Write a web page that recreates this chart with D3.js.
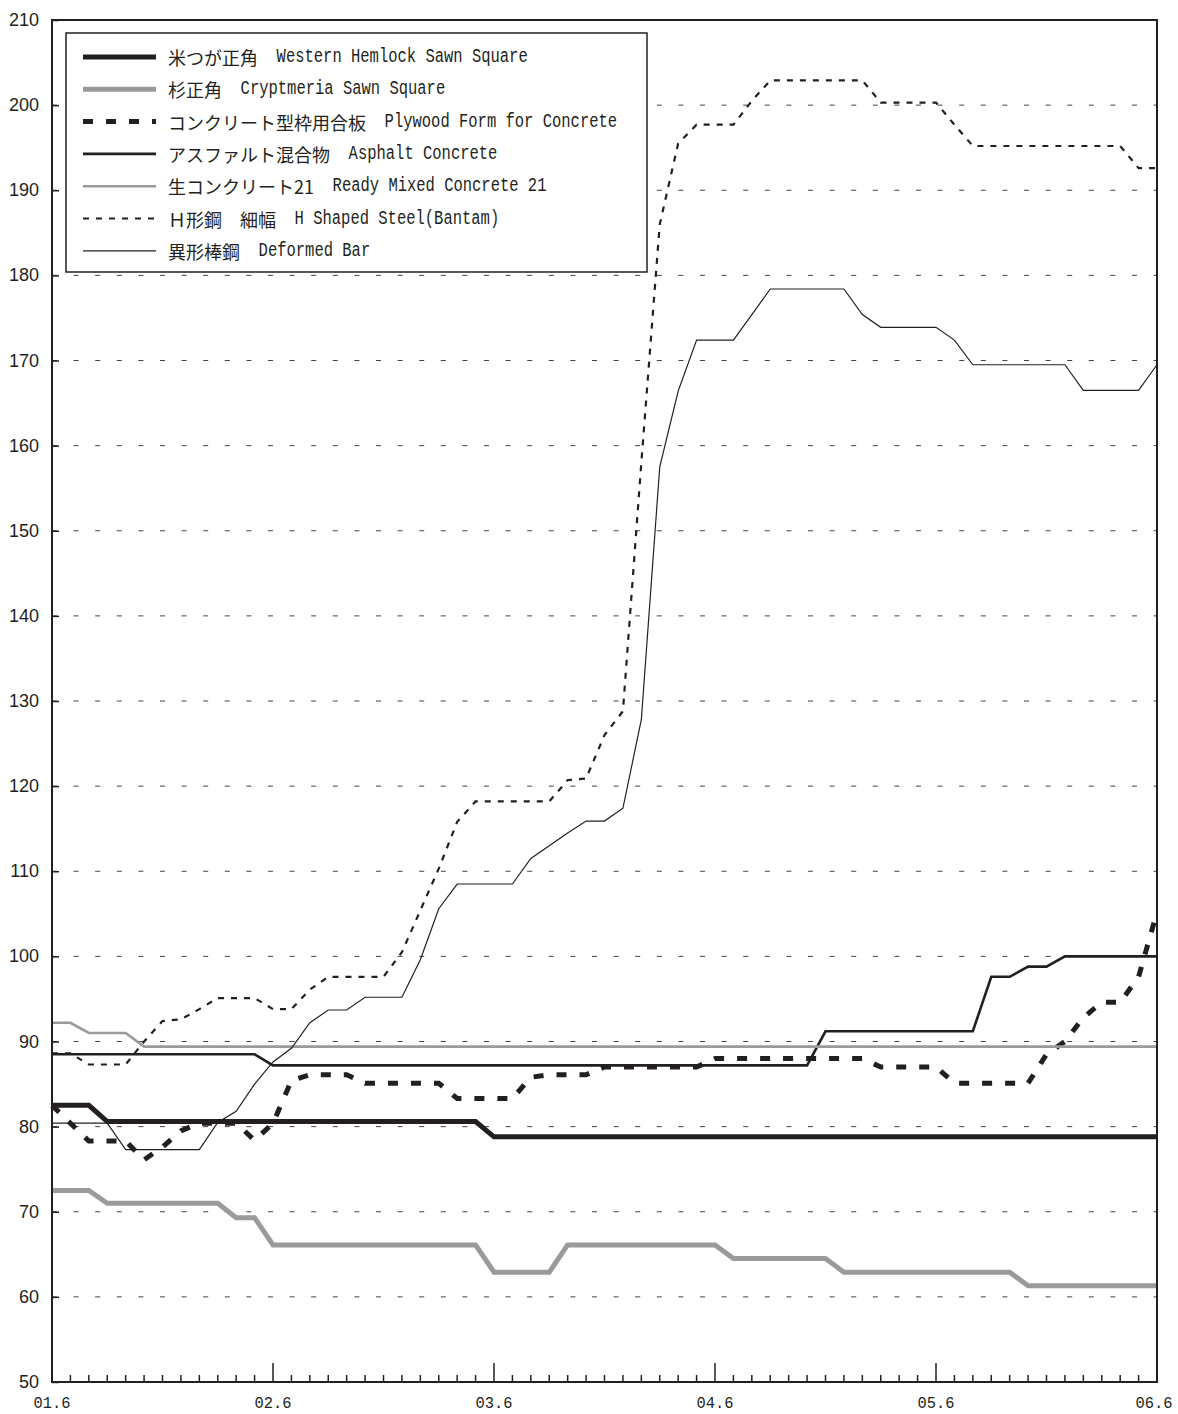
<!DOCTYPE html>
<html>
<head>
<meta charset="utf-8">
<script src="https://cdn.jsdelivr.net/npm/d3@7"></script>
<style>
  body { margin: 0; background: #fff; }
  .y-label { font-family: "Liberation Sans", Arial, sans-serif; font-size: 18px; fill: #231f20; }
  .x-label { font-family: "Liberation Mono", monospace; font-size: 17px; fill: #231f20; }
  .legend-jp { font-family: "Noto Sans CJK JP", sans-serif; font-size: 18px; fill: #231f20; }
  .legend-en { font-family: "Liberation Mono", monospace; font-size: 19.5px; fill: #231f20; }
</style>
</head>
<body>
<div class="wrapper"></div>
<script>
// monthly index, 0 = 2001.6 ... 60 = 2006.6
const months = d3.range(61)
const xTickLabels = ["01.6", "02.6", "03.6", "04.6", "05.6", "06.6"]
const yTicks = [50, 60, 70, 80, 90, 100, 110, 120, 130, 140, 150, 160, 170, 180, 190, 200, 210]

const namesJp = ["米つが正角", "杉正角", "コンクリート型枠用合板", "アスファルト混合物", "生コンクリート21", "Ｈ形鋼　細幅", "異形棒鋼"]
const namesEn = ["Western Hemlock Sawn Square", "Cryptmeria Sawn Square", "Plywood Form for Concrete", "Asphalt Concrete", "Ready Mixed Concrete 21", "H Shaped Steel(Bantam)", "Deformed Bar"]

const hemlock = [82.5, 82.5, 82.5,
  80.6, 80.6, 80.6, 80.6, 80.6, 80.6, 80.6, 80.6, 80.6, 80.6, 80.6, 80.6, 80.6, 80.6, 80.6, 80.6, 80.6, 80.6, 80.6, 80.6, 80.6,
  78.8, 78.8, 78.8, 78.8, 78.8, 78.8, 78.8, 78.8, 78.8, 78.8, 78.8, 78.8, 78.8, 78.8, 78.8, 78.8, 78.8, 78.8, 78.8, 78.8, 78.8,
  78.8, 78.8, 78.8, 78.8, 78.8, 78.8, 78.8, 78.8, 78.8, 78.8, 78.8, 78.8, 78.8, 78.8, 78.8, 78.8]
const cryptomeria = [72.5, 72.5, 72.5,
  71.0, 71.0, 71.0, 71.0, 71.0, 71.0, 71.0,
  69.3, 69.3,
  66.1, 66.1, 66.1, 66.1, 66.1, 66.1, 66.1, 66.1, 66.1, 66.1, 66.1, 66.1,
  62.9, 62.9, 62.9, 62.9,
  66.1, 66.1, 66.1, 66.1, 66.1, 66.1, 66.1, 66.1, 66.1,
  64.5, 64.5, 64.5, 64.5, 64.5, 64.5,
  62.9, 62.9, 62.9, 62.9, 62.9, 62.9, 62.9, 62.9, 62.9, 62.9,
  61.3, 61.3, 61.3, 61.3, 61.3, 61.3, 61.3, 61.3]
const plywood = [82.5, 80.4, 78.3, 78.3, 78.3, 76.1, 77.6, 79.5, 80.4, 80.4,
  80.4, 78.4, 80.4, 85.4, 86.1, 86.1, 86.1, 85.1, 85.1, 85.1,
  85.1, 85.1, 83.3, 83.3, 83.3, 83.3, 85.8, 86.1, 86.1, 86.1,
  87.0, 87.0, 87.0, 87.0, 87.0, 87.0, 88.0, 88.0, 88.0, 88.0,
  88.0, 88.0, 88.0, 88.0, 88.0, 87.0, 87.0, 87.0, 87.0, 85.1,
  85.1, 85.1, 85.1, 85.1, 88.5, 90.0, 92.8, 94.6, 94.6, 97.6, 105.2]
const asphalt = [88.5, 88.5, 88.5, 88.5, 88.5, 88.5, 88.5, 88.5, 88.5, 88.5, 88.5, 88.5,
  87.2, 87.2, 87.2, 87.2, 87.2, 87.2, 87.2, 87.2, 87.2, 87.2, 87.2, 87.2, 87.2, 87.2, 87.2,
  87.2, 87.2, 87.2, 87.2, 87.2, 87.2, 87.2, 87.2, 87.2, 87.2, 87.2, 87.2, 87.2, 87.2, 87.2,
  91.2, 91.2, 91.2, 91.2, 91.2, 91.2, 91.2, 91.2, 91.2,
  97.6, 97.6, 98.8, 98.8,
  100.0, 100.0, 100.0, 100.0, 100.0, 100.0]
const readyMixed = [92.2, 92.2, 91.0, 91.0, 91.0,
  89.4, 89.4, 89.4, 89.4, 89.4, 89.4, 89.4, 89.4, 89.4, 89.4, 89.4, 89.4, 89.4, 89.4, 89.4,
  89.4, 89.4, 89.4, 89.4, 89.4, 89.4, 89.4, 89.4, 89.4, 89.4, 89.4, 89.4, 89.4, 89.4, 89.4,
  89.4, 89.4, 89.4, 89.4, 89.4, 89.4, 89.4, 89.4, 89.4, 89.4, 89.4, 89.4, 89.4, 89.4, 89.4,
  89.4, 89.4, 89.4, 89.4, 89.4, 89.4, 89.4, 89.4, 89.4, 89.4, 89.4]
const hSteel = [88.6, 88.6, 87.3, 87.3, 87.3, 90.0, 92.4, 92.6, 93.8, 95.1,
  95.1, 95.1, 93.8, 93.8, 96.1, 97.6, 97.6, 97.6, 97.6, 100.5,
  105.4, 110.3, 115.8, 118.2, 118.2, 118.2, 118.2, 118.2, 120.7, 120.9,
  126.0, 128.8, 158.0, 186.0, 195.5, 197.7, 197.7, 197.7, 200.5, 202.9,
  202.9, 202.9, 202.9, 202.9, 202.9, 200.3, 200.3, 200.3, 200.3, 197.7,
  195.2, 195.2, 195.2, 195.2, 195.2, 195.2, 195.2, 195.2, 195.2, 192.6, 192.6]
const deformedBar = [80.4, 80.4, 80.4, 80.4, 77.3, 77.3, 77.3, 77.3, 77.3, 80.5,
  81.8, 85.0, 87.6, 89.2, 92.2, 93.7, 93.7, 95.2, 95.2, 95.2,
  99.6, 105.6, 108.5, 108.5, 108.5, 108.5, 111.5, 113.0, 114.5, 115.9,
  115.9, 117.4, 127.8, 157.5, 166.4, 172.4, 172.4, 172.4, 175.4, 178.4,
  178.4, 178.4, 178.4, 178.4, 175.4, 173.9, 173.9, 173.9, 173.9, 172.4,
  169.5, 169.5, 169.5, 169.5, 169.5, 169.5, 166.5, 166.5, 166.5, 166.5, 169.5]

const seriesValues = [hemlock, cryptomeria, plywood, asphalt, readyMixed, hSteel, deformedBar]

// drawing style for each series, same order as above
const black = "#231f20"
const grey = "#9a9a9a"
const lineStyles = [
  {color: black, width: 5, dash: null},
  {color: grey, width: 5, dash: null},
  {color: black, width: 5, dash: "10,13"},
  {color: black, width: 2.6, dash: null},
  {color: grey, width: 2.6, dash: null},
  {color: black, width: 2.2, dash: "6,7"},
  {color: black, width: 1.2, dash: null},
]

let dimensions = {
  width: 1178,
  height: 1414,
  margin: {top: 20, right: 21, bottom: 32, left: 52},
}
dimensions.boundedWidth = dimensions.width - dimensions.margin.left - dimensions.margin.right
dimensions.boundedHeight = dimensions.height - dimensions.margin.top - dimensions.margin.bottom

const wrapper = d3.select(".wrapper")
  .append("svg")
  .attr("width", dimensions.width)
  .attr("height", dimensions.height)

const bounds = wrapper.append("g")
  .attr("transform", `translate(${dimensions.margin.left},${dimensions.margin.top})`)

const xScale = d3.scaleLinear()
  .domain([0, 60])
  .range([0, dimensions.boundedWidth])

const yScale = d3.scaleLinear()
  .domain([50, 210])
  .range([dimensions.boundedHeight, 0])

// dashed grid lines
bounds.append("g")
  .selectAll("line")
  .data(yTicks.filter(d => d > 50 && d < 210))
  .enter().append("line")
  .attr("x1", 0)
  .attr("x2", dimensions.boundedWidth)
  .attr("y1", d => yScale(d))
  .attr("y2", d => yScale(d))
  .attr("stroke", "#444")
  .attr("stroke-width", 1)
  .attr("stroke-dasharray", "5,16.6")

// y axis: ticks pointing inward, labels on the left
const yAxis = d3.axisRight(yScale)
  .tickValues(yTicks)
  .tickSize(7)
  .tickFormat("")
const yAxisGroup = bounds.append("g").call(yAxis)
yAxisGroup.select(".domain").remove()
yAxisGroup.selectAll("line").attr("stroke", black).attr("stroke-width", 1.5)

bounds.append("g")
  .selectAll("text")
  .data(yTicks)
  .enter().append("text")
  .attr("class", "y-label")
  .attr("x", -13)
  .attr("y", d => yScale(d))
  .attr("text-anchor", "end")
  .attr("dominant-baseline", "central")
  .text(d => d)

// x axis: monthly minor ticks, yearly major ticks, pointing up
const xAxisGroup = bounds.append("g")
  .attr("transform", `translate(0,${dimensions.boundedHeight})`)
xAxisGroup.selectAll("line")
  .data(months)
  .enter().append("line")
  .attr("x1", d => xScale(d))
  .attr("x2", d => xScale(d))
  .attr("y1", 0)
  .attr("y2", d => d % 12 === 0 ? -19 : -7)
  .attr("stroke", black)
  .attr("stroke-width", 1.5)

// last label would touch the page edge, so it is pulled in a little
const lastLabel = xTickLabels.length - 1
xAxisGroup.selectAll("text")
  .data(xTickLabels)
  .enter().append("text")
  .attr("class", "x-label")
  .attr("x", (d, i) => xScale(i * 12) - (i === lastLabel ? 3 : 0))
  .attr("y", 26)
  .attr("text-anchor", "middle")
  .attr("textLength", 37)
  .attr("lengthAdjust", "spacingAndGlyphs")
  .text(d => d)

// series lines
const lineGenerator = d3.line()
  .x((d, i) => xScale(months[i]))
  .y(d => yScale(d))

bounds.append("g")
  .selectAll("path")
  .data(seriesValues)
  .enter().append("path")
  .attr("d", lineGenerator)
  .attr("fill", "none")
  .attr("stroke", (d, i) => lineStyles[i].color)
  .attr("stroke-width", (d, i) => lineStyles[i].width)
  .attr("stroke-dasharray", (d, i) => lineStyles[i].dash)
  .attr("stroke-linejoin", "miter")

// plot frame
bounds.append("rect")
  .attr("width", dimensions.boundedWidth)
  .attr("height", dimensions.boundedHeight)
  .attr("fill", "none")
  .attr("stroke", black)
  .attr("stroke-width", 2)

// legend
const legendGroup = bounds.append("g")
  .attr("transform", "translate(14,13)")

legendGroup.append("rect")
  .attr("width", 581)
  .attr("height", 239)
  .attr("fill", "#fff")
  .attr("stroke", black)
  .attr("stroke-width", 1.5)

const legendItems = legendGroup.selectAll(".legend-item")
  .data(namesJp)
  .enter().append("g")
  .attr("class", "legend-item")
  .attr("transform", (d, i) => `translate(0,${24 + i * 32.3})`)

legendItems.append("line")
  .attr("x1", 17)
  .attr("x2", 90)
  .attr("stroke", (d, i) => lineStyles[i].color)
  .attr("stroke-width", (d, i) => lineStyles[i].width)
  .attr("stroke-dasharray", (d, i) => lineStyles[i].dash)

const halfWidth = 9.3
legendItems.each(function(d, i) {
  const item = d3.select(this)
  const jp = item.append("text")
    .attr("class", "legend-jp")
    .attr("x", 102)
    .attr("dominant-baseline", "central")
    .text(d)
  const jpWidth = jp.node().getComputedTextLength()
  item.append("text")
    .attr("class", "legend-en")
    .attr("x", 102 + jpWidth + halfWidth * 2)
    .attr("dominant-baseline", "central")
    .attr("textLength", namesEn[i].length * halfWidth)
    .attr("lengthAdjust", "spacingAndGlyphs")
    .text(namesEn[i])
})
</script>
</body>
</html>
